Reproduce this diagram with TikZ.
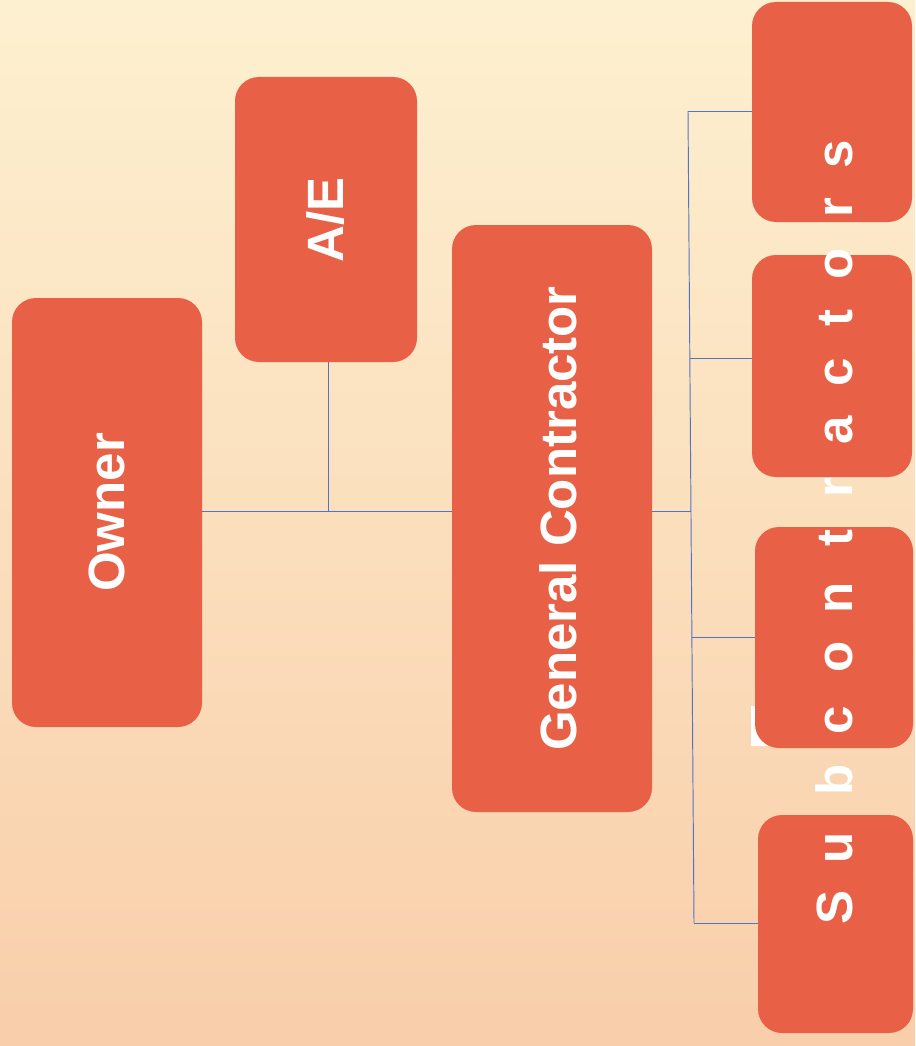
\documentclass[tikz,border=0pt]{standalone}
\usepackage{fontspec}
\setmainfont{Liberation Sans}
\definecolor{boxred}{RGB}{232,97,70}
\definecolor{linkblue}{RGB}{82,116,196}
\definecolor{bgtop}{RGB}{253,240,208}
\definecolor{bgmid}{RGB}{251,225,190}
\definecolor{bgbot}{RGB}{249,206,170}
\begin{document}
\begin{tikzpicture}[x=1pt,y=-1pt,
  box/.style={draw=none, fill=boxred, rounded corners=24pt, rotate=90,
    inner sep=0pt, text=white, font=\fontsize{51}{60}\selectfont\bfseries},
  link/.style={draw=linkblue, line width=0.95pt},
  letter/.style={rotate=90, anchor=base, inner sep=0pt, text=white,
    font=\fontsize{51}{60}\selectfont\bfseries}]

% paper background
\useasboundingbox (0,0) rectangle (915,1046);
\shade[top color=bgtop, middle color=bgmid, bottom color=bgbot]
  (0,0) rectangle (915,1046);

% small white patch peeking out beside the third subcontractor box
\fill[white] (751,706) rectangle (768,746);

% boxes (rotated: width runs down the page, height across it)
\node[box, minimum width=429pt, minimum height=190pt] (owner) at (107,512.5) {Owner};
\node[box, minimum width=285pt, minimum height=182pt] (ae) at (326,219.5) {A/E};
\node[box, minimum width=587pt, minimum height=200pt,
      text height=49pt, text depth=0pt] (gc) at (552,518.5) {General Contractor};
\node[box, minimum width=220pt, minimum height=160pt] (sub1) at (832,112) {};
\node[box, minimum width=222pt, minimum height=160pt] (sub2) at (832,366) {};
\node[box, minimum width=221pt, minimum height=158pt] (sub3) at (834,637.5) {};
\node[box, minimum width=218pt, minimum height=155pt] (sub4) at (835.5,924) {};

% junction and the points where the bus meets each branch
\coordinate (j) at (691,511);
\coordinate (b1) at (688,111);
\coordinate (b2) at (689.8,358);
\coordinate (b3) at (691.9,637);
\coordinate (b4) at (694,923);

% connectors
\draw[link] (owner.south |- j) -- (j -| gc.north);
\draw[link] ([xshift=2pt]ae.west) -- ([xshift=2pt]ae.west |- j);
\draw[link] (gc.south |- j) -- (j);
\draw[link] (b1) -- (b4);
\draw[link] (b1) -- (b1 -| sub1.north);
\draw[link] (b2) -- (b2 -| sub2.north);
\draw[link] (b3) -- (b3 -| sub3.north);
\draw[link] (b4) -- (b4 -| sub4.north);

% spaced-out label running across the subcontractor boxes
\foreach \ch/\yy [count=\i] in {S/907, u/848, b/780, c/720, o/657, n/598, t/538,
    r/488, a/430, c/372, t/318, o/264, r/208, s/154}
  \node[letter] (subletter\i) at (852,\yy) {\ch};
\end{tikzpicture}
\end{document}
